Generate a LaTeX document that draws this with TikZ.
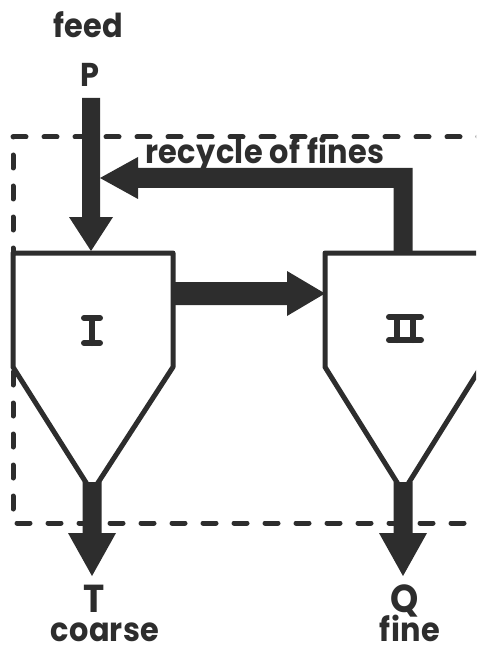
\documentclass[tikz,border=0pt]{standalone}
\usepackage{fontspec}
\setmainfont{Poppins}[FakeStretch=0.92,LetterSpace=1]
\usetikzlibrary{calc}
\definecolor{ink}{RGB}{45,45,45}

\begin{document}
\begin{tikzpicture}[x=1pt,y=-1pt,
  lbl/.style={font=\bfseries\fontsize{33}{33}\selectfont, text=ink, inner sep=0pt, anchor=base},
  biglbl/.style={lbl, font=\bfseries\fontsize{39}{39}\selectfont},
  numeral/.style={draw=ink, line width=6pt, line cap=round},
  vessel/.style={draw=ink, line width=5pt, line join=round, fill=white},
  flow/.style={fill=ink},
  boundary/.style={draw=ink, line width=5pt, dash pattern=on 13pt off 18pt, line cap=round}]
\useasboundingbox (0,0) rectangle (476,652);
\clip (0,0) rectangle (476,652);

% system boundary
\draw[boundary] (13,137) -- (495,137) -- (495,523) -- (13,523) -- cycle;

% classifier I
\coordinate (Itl) at (13,253);
\coordinate (Itr) at (173,253);
\coordinate (Ibot) at (92,492);
\draw[vessel] (Itl) -- (Itr) -- (173,367) -- (Ibot) -- (13,367) -- cycle;
% classifier II
\coordinate (IItl) at (325,253);
\coordinate (IIbot) at (403,492);
\draw[vessel] (IItl) -- (481,253) -- (481,367) -- (IIbot) -- (325,367) -- cycle;

% roman numerals of the two stages
\coordinate (nI) at (92,330);
\draw[numeral] ($(nI)+(-8,-12)$) -- ($(nI)+(8,-12)$)
  ($(nI)+(-8,13)$) -- ($(nI)+(8,13)$)
  ($(nI)+(0,-12)$) -- ($(nI)+(0,13)$);
\coordinate (nII) at (405,328.5);
\draw[numeral] ($(nII)+(-16,-11.5)$) -- ($(nII)+(16,-11.5)$)
  ($(nII)+(-16,11.5)$) -- ($(nII)+(16,11.5)$)
  ($(nII)+(-8,-11.5)$) -- ($(nII)+(-8,11.5)$)
  ($(nII)+(8,-11.5)$) -- ($(nII)+(8,11.5)$);

% feed P into I
\coordinate (feedin) at (91,98);
\coordinate (Iin) at (91,251);
\fill[flow] ($(feedin)+(-9,0)$) -- ($(feedin)+(9,0)$) -- ($(Iin)+(9,-34)$)
  -- ($(Iin)+(22,-34)$) -- (Iin) -- ($(Iin)+(-22,-34)$) -- ($(Iin)+(-9,-34)$) -- cycle;

% recycle of fines from II back to the feed
\coordinate (IIout) at (403,253);
\coordinate (recin) at (100,178);
\fill[flow] ($(IIout)+(-9.5,0)$) -- ($(IIout)+(-9.5,-65)$) -- ($(recin)+(38,10)$)
  -- ($(recin)+(38,21)$) -- (recin) -- ($(recin)+(38,-21)$) -- ($(recin)+(38,-10)$)
  -- ($(IIout)+(9.5,-85)$) -- ($(IIout)+(9.5,0)$) -- cycle;

% overflow of I to II
\coordinate (Iout) at (173,293.5);
\coordinate (IIin) at (325,293.5);
\fill[flow] ($(Iout)+(0,-11.5)$) -- ($(IIin)+(-38,-11.5)$) -- ($(IIin)+(-38,-22.5)$)
  -- (IIin) -- ($(IIin)+(-38,22.5)$) -- ($(IIin)+(-38,11.5)$) -- ($(Iout)+(0,11.5)$) -- cycle;

% coarse product T
\coordinate (Tout) at (92,576);
\fill[flow] ($(Ibot)+(-9.5,-10)$) -- ($(Ibot)+(9.5,-10)$) -- ($(Tout)+(9.5,-43)$)
  -- ($(Tout)+(24,-43)$) -- (Tout) -- ($(Tout)+(-24,-43)$) -- ($(Tout)+(-9.5,-43)$) -- cycle;

% fine product Q
\coordinate (Qout) at (403,576);
\fill[flow] ($(IIbot)+(-9.5,-10)$) -- ($(IIbot)+(9.5,-10)$) -- ($(Qout)+(9.5,-43)$)
  -- ($(Qout)+(24,-43)$) -- (Qout) -- ($(Qout)+(-24,-43)$) -- ($(Qout)+(-9.5,-43)$) -- cycle;

% labels
\node[lbl] (feed) at (88,38) {feed};
\node[lbl] (P) at (90,87) {P};
\node[lbl] (rec) at (265,164) {recycle of fines};
\node[biglbl] (T) at (94,612) {T};
\node[lbl] (coarse) at (105,641) {coarse};
\node[biglbl] (Q) at (405,612) {\smash{Q}};
\node[lbl] (fine) at (410,641) {fine};
\end{tikzpicture}
\end{document}
